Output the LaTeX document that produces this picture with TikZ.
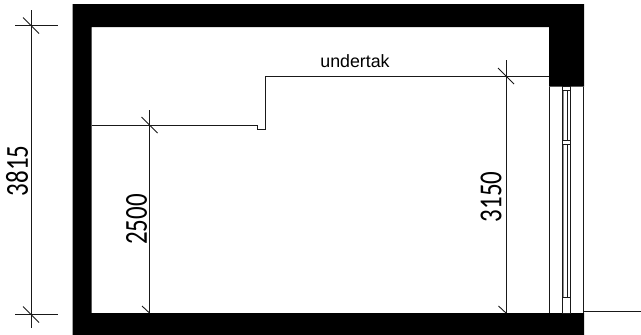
\documentclass[tikz,border=0pt]{standalone}
\usepackage{fontspec}
\setmainfont{Liberation Sans}
\newfontfamily\dimfont{Carlito}
\tikzset{
  thinline/.style={line width=0.9pt, black!90},
  dimtext/.style={font=\dimfont\fontsize{32}{32}\selectfont, rotate=90, xscale=0.78, inner sep=0pt},
}
\begin{document}
\begin{tikzpicture}[x=1pt, y=-1pt]
\useasboundingbox (0,0) rectangle (641,335);

% plot the wall
\fill[black] (72.5,4) -- (584,4) -- (584,86.5) -- (549,86.5) -- (549,27) -- (91.5,27)
  -- (91.5,313) -- (584,313) -- (584,335) -- (72.5,335) -- cycle;

% plot the window
\draw[thinline] (549.5,86.5) -- (549.5,313);
\draw[thinline] (583,86.5) -- (583,313);
\draw[thinline] (562,86.5) -- (562,313);
\draw[thinline] (570.5,86.5) -- (570.5,313);
\draw[line width=1.2pt, black!45] (563.8,90) -- (563.8,297);
\draw[thinline] (567.5,90) -- (567.5,297);
\draw[thinline, fill=white] (562.7,86.5) rectangle (570,90);
\draw[thinline, fill=white] (562.7,140.5) rectangle (570,144.5);
\draw[thinline, fill=white] (562.5,297) rectangle (570,313);
\draw[thinline] (584,311.7) -- (641,311.7);

% plot the soffit
\draw[thinline] (91.5,125) -- (257.5,125) -- (257.5,129) -- (265,129) -- (265,76) -- (549,76);
\node (undertak) at (355,61.5) {\fontsize{17.8}{18}\selectfont undertak};

% plot the dimensions
\draw[thinline] (31,10) -- (31,328);
\draw[thinline] (15,25.5) -- (58,25.5);
\draw[thinline] (15,314.5) -- (58,314.5);
\draw[thinline] (149.5,110) -- (149.5,313);
\draw[thinline] (506,60) -- (506,313);

\foreach \x/\y in {31/25.5, 31/314.5, 149.5/125, 506/76}
  \draw[thinline] (\x-8,\y-8) -- (\x+8,\y+8);
\foreach \x in {149.5, 506}
  \draw[thinline] (\x-7.5,306) -- (\x,313);

\node[dimtext] (total) at (17,171) {3815};
\node[dimtext] (low) at (136.5,219.5) {2500};
\node[dimtext] (high) at (491,197) {3150};

\end{tikzpicture}
\end{document}
